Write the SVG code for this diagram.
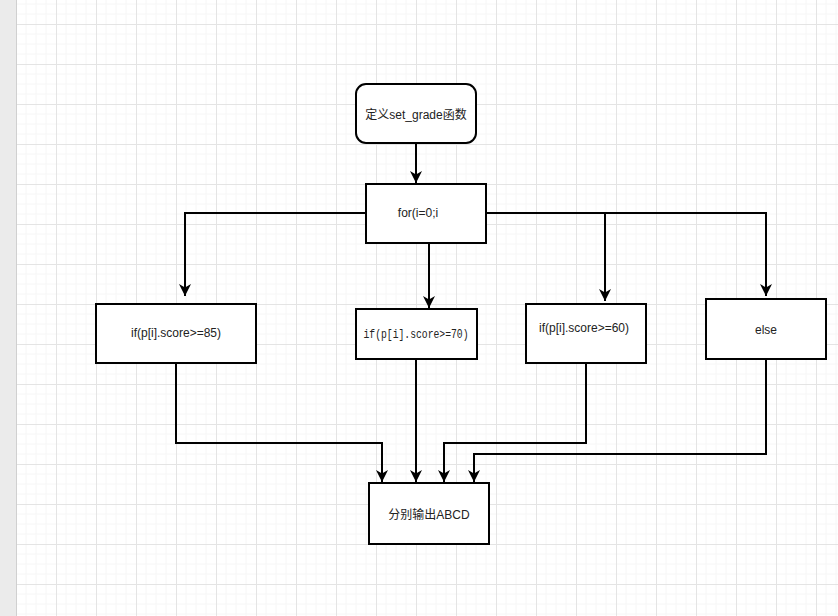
<svg xmlns="http://www.w3.org/2000/svg" width="838" height="616" viewBox="0 0 838 616">
<defs>
<pattern id="grid" patternUnits="userSpaceOnUse" x="16" y="24" width="40" height="40">
<path d="M10,0V40M20,0V40M30,0V40M0,10H40M0,20H40M0,30H40" stroke="#f6f6f6" stroke-width="1" fill="none"/>
<path d="M0.5,0V40M0,0.5H40" stroke="#e4e4e4" stroke-width="1" fill="none"/>
</pattern>
<marker id="arr" markerUnits="userSpaceOnUse" markerWidth="14" markerHeight="14" refX="12" refY="7" orient="auto">
<path d="M0,1 L12,7 L0,13 L3.5,7 z" fill="#000"/>
</marker>
<style>
.box{fill:#fff;stroke:#000;stroke-width:2}
.t{font-family:"Liberation Sans","Noto Sans CJK SC",sans-serif;font-size:12px;fill:#222;text-anchor:middle;dominant-baseline:central}
.m{font-family:"Liberation Mono","Noto Sans CJK SC",monospace;font-size:13px;fill:#222;text-anchor:middle;dominant-baseline:central}
.c{fill:none;stroke:#000;stroke-width:2}
</style>
</defs>
<rect x="0" y="0" width="838" height="616" fill="#ffffff"/>
<rect x="16" y="0" width="822" height="616" fill="url(#grid)"/>
<rect x="0" y="0" width="16" height="616" fill="#ebebeb"/>
<line x1="16.5" y1="0" x2="16.5" y2="616" stroke="#d0d0d0"/>

<g id="connectors">
<path class="c" d="M416,143 V183" marker-end="url(#arr)"/>
<path class="c" d="M366,213 H185 V296" marker-end="url(#arr)"/>
<path class="c" d="M429,229 V308" marker-end="url(#arr)"/>
<path class="c" d="M486,213 H766 V296" marker-end="url(#arr)"/>
<path class="c" d="M605,213 V301" marker-end="url(#arr)"/>
<path class="c" d="M176,363 V443 H382 V482" marker-end="url(#arr)"/>
<path class="c" d="M416,359 V482" marker-end="url(#arr)"/>
<path class="c" d="M586,363 V443 H444 V482" marker-end="url(#arr)"/>
<path class="c" d="M766,359 V454 H474 V482" marker-end="url(#arr)"/>
</g>

<g id="start">
<rect class="box" x="356" y="84" width="120" height="59" rx="10"/>
<text class="t" x="416" y="115">定义set_grade函数</text>
</g>
<g id="for">
<rect class="box" x="366" y="184" width="120" height="59"/>
<text class="t" x="418" y="213">for(i=0;i</text>
</g>
<g id="if85">
<rect class="box" x="96" y="304" width="160" height="59"/>
<text class="t" x="176" y="333">if(p[i].score&gt;=85)</text>
</g>
<g id="if70">
<rect class="box" x="356" y="309" width="121" height="50"/>
<text class="m" x="416" y="334" textLength="105" lengthAdjust="spacingAndGlyphs">if(p[i].score&gt;=70)</text>
</g>
<g id="if60">
<rect class="box" x="526" y="304" width="120" height="59"/>
<text class="t" x="584" y="328">if(p[i].score&gt;=60)</text>
</g>
<g id="else">
<rect class="box" x="706" y="299" width="120" height="60"/>
<text class="t" x="766" y="330">else</text>
</g>
<g id="output">
<rect class="box" x="369" y="483" width="120" height="61"/>
<text class="t" x="429" y="515">分别输出ABCD</text>
</g>
</svg>
